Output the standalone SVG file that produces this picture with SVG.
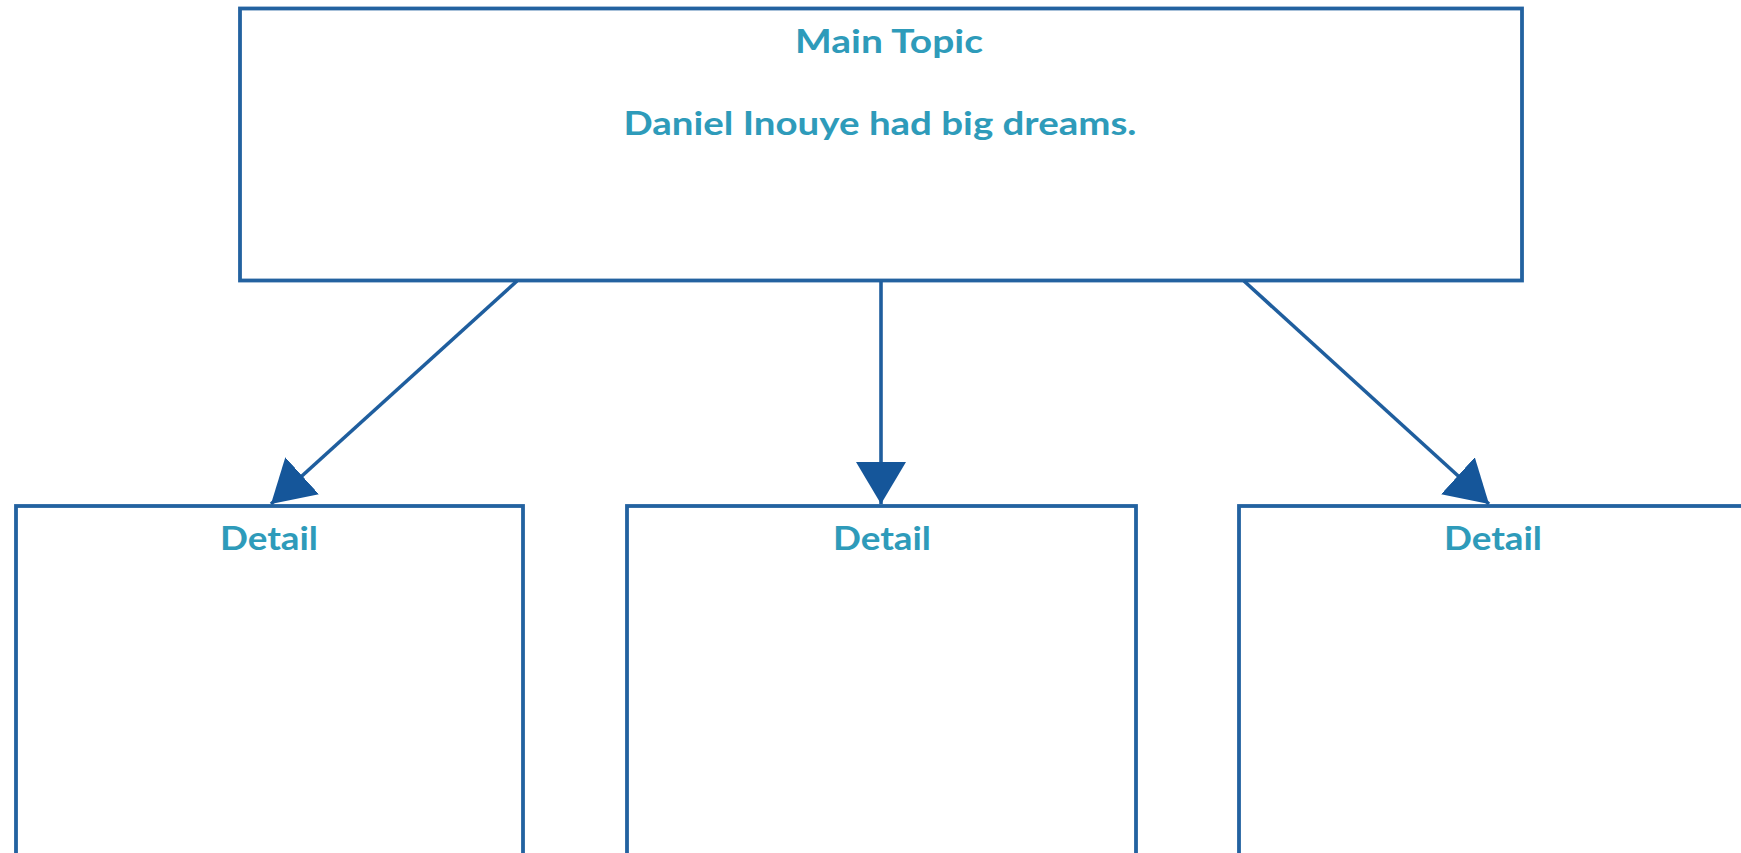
<svg xmlns="http://www.w3.org/2000/svg" width="1741" height="853" viewBox="0 0 1741 853">
<style>
.box{fill:#ffffff;stroke:#2362A0;stroke-width:3.8}
.lbl{font-family:"Lato","Liberation Sans",sans-serif;font-weight:bold;fill:#2E9BBA;text-anchor:middle}
.conn{stroke:#1F5E9E;stroke-width:3.6;fill:none}
</style>
<defs>
<marker id="ah" viewBox="0 0 42 50" refX="42" refY="25" markerWidth="42" markerHeight="50" markerUnits="userSpaceOnUse" orient="auto">
<path d="M0,0 L42,25 L0,50 Z" fill="#15569A"/>
</marker>
</defs>
<rect width="1741" height="853" fill="#ffffff"/>
<g id="main">
<rect class="box" x="240" y="8.5" width="1282" height="272"/>
<text class="lbl" x="889" y="53" font-size="32" textLength="188" lengthAdjust="spacingAndGlyphs">Main Topic</text>
<text class="lbl" x="880" y="135" font-size="32" textLength="513" lengthAdjust="spacingAndGlyphs">Daniel Inouye had big dreams.</text>
</g>
<g id="detail1">
<rect class="box" x="16" y="506" width="507" height="400"/>
<text class="lbl" x="269" y="550" font-size="32" textLength="98" lengthAdjust="spacingAndGlyphs">Detail</text>
</g>
<g id="detail2">
<rect class="box" x="627" y="506" width="509" height="400"/>
<text class="lbl" x="882" y="550" font-size="32" textLength="98" lengthAdjust="spacingAndGlyphs">Detail</text>
</g>
<g id="detail3">
<rect class="box" x="1239" y="506" width="560" height="400"/>
<text class="lbl" x="1493" y="550" font-size="32" textLength="98" lengthAdjust="spacingAndGlyphs">Detail</text>
</g>
<g id="connectors">
<line class="conn" x1="517" y1="281" x2="271" y2="504" marker-end="url(#ah)"/>
<line class="conn" x1="881" y1="281" x2="881" y2="504" marker-end="url(#ah)"/>
<line class="conn" x1="1244" y1="281" x2="1489" y2="504" marker-end="url(#ah)"/>
</g>
</svg>
